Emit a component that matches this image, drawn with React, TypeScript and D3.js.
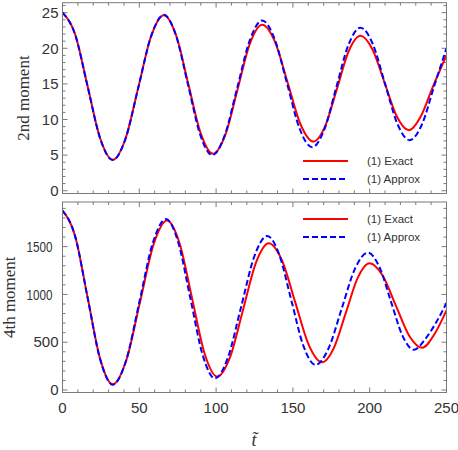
import React from "react";
import * as d3 from "d3";

// [t, value]
const exact2nd: [number, number][] = [
  [0, 25], [8.2, 21.97], [16.35, 14.67], [24.5, 7.37], [32.7, 4.34], [41, 7.3], [49.35, 14.5],
  [57.7, 21.7], [66, 24.65], [74, 21.8], [82, 14.9], [90, 8.05], [98, 5.2], [106, 7.85],
  [114, 14.25], [122, 20.65], [130, 23.3], [138.35, 20.9], [146.7, 15.1], [155, 9.3],
  [163.4, 6.9], [171, 9.08], [178.7, 14.33], [186.3, 19.58], [194, 21.75], [201.9, 19.8],
  [209.75, 15.13], [217.6, 10.45], [225.5, 8.5], [233.4, 10.5], [241.3, 14.7], [250, 19.0],
];
const approx2nd: [number, number][] = [
  [0, 25], [8.2, 21.95], [16.35, 14.65], [24.5, 7.35], [32.7, 4.3], [41, 7.29], [49.35, 14.5],
  [57.7, 21.7], [66, 24.7], [73.9, 21.8], [81.75, 14.85], [89.6, 7.9], [97.5, 5.0], [105.6, 7.77],
  [113.75, 14.45], [121.9, 21.1], [130, 23.9], [138.1, 21.3], [146.25, 15.0], [154.4, 8.7],
  [162.5, 6.1], [170.4, 8.56], [178.25, 14.5], [186.1, 20.44], [194, 22.9], [202, 20.6],
  [210, 15.0], [218, 9.4], [226, 7.1], [234, 9.3], [242, 14.7], [250, 20.0],
];
const exact4th: [number, number][] = [
  [0, 1878], [8.2, 1612], [16.35, 969], [24.5, 326], [32.7, 60], [41.55, 311], [50.4, 916],
  [59.25, 1521], [68.1, 1773], [76.25, 1533], [84.4, 956], [92.55, 379], [100.7, 140],
  [109.1, 344], [117.5, 837], [125.9, 1330], [134.3, 1535], [143, 1352], [151.65, 912],
  [160.3, 472], [169, 290], [176.7, 441], [184.45, 807], [192.2, 1173], [199.9, 1325],
  [208.5, 1195], [217.05, 883], [225.6, 571], [234.2, 442], [242, 580], [250, 834],
];
const approx4th: [number, number][] = [
  [0, 1878], [8.2, 1610], [16.35, 966], [24.5, 322], [32.7, 55], [41.4, 309], [50.05, 921],
  [58.7, 1534], [67.4, 1788], [75.35, 1544], [83.3, 955], [91.25, 366], [99.2, 122],
  [107.7, 340], [116.25, 867], [124.8, 1394], [133.3, 1612], [141.15, 1414], [149, 937],
  [156.85, 461], [164.7, 263], [173.2, 435], [181.75, 850], [190.3, 1265], [198.8, 1437],
  [206.3, 1288], [213.8, 928], [221.3, 569], [228.8, 420], [236, 530], [243, 700], [250, 911],
];

const xTicks = [0, 50, 100, 150, 200, 250];
const yTicks2nd = [0, 5, 10, 15, 20, 25];
const yTicks4th = [0, 500, 1000, 1500];
const legendLabels = ["(1) Exact", "(1) Approx"];

const W = 458;
const H = 450;
const left = 62.5;
const right = 446.5;
const frameColor = "#7a7a7a";
const labelColor = "#333";

const x = d3.scaleLinear().domain([0, 250]).range([left, right]);

type PanelProps = {
  id: string;
  top: number;
  bottom: number;
  y: d3.ScaleLinear<number, number>;
  yTicks: number[];
  yMinor: number;
  ylabel: string;
  ylabelX: number;
  exact: [number, number][];
  approx: [number, number][];
  legendY: number;
  showX: boolean;
};

const Panel = ({ id, top, bottom, y, yTicks, yMinor, ylabel, ylabelX, exact, approx, legendY, showX }: PanelProps) => {
  const line = d3
    .line<[number, number]>()
    .x((d) => x(d[0]))
    .y((d) => y(d[1]))
    .curve(d3.curveMonotoneX);

  const xMinor = d3.range(0, 251, 10);
  const [y0, y1] = y.domain();
  const yMin = d3.range(Math.ceil(y0 / yMinor) * yMinor, y1, yMinor);
  const isMajorY = (v: number) => yTicks.some((t) => Math.abs(t - v) < 1e-6);
  const isMajorX = (v: number) => v % 50 === 0;

  return (
    <g>
      <defs>
        <clipPath id={id}>
          <rect x={left} y={top} width={right - left} height={bottom - top} />
        </clipPath>
      </defs>
      {/* ticks */}
      <g stroke={frameColor} strokeWidth={1}>
        {xMinor.map((v) => {
          const len = isMajorX(v) ? 5 : 3;
          return (
            <g key={"x" + v}>
              <line x1={x(v)} x2={x(v)} y1={bottom} y2={bottom - len} />
              <line x1={x(v)} x2={x(v)} y1={top} y2={top + len} />
            </g>
          );
        })}
        {yMin.map((v) => {
          const len = isMajorY(v) ? 5 : 3;
          return (
            <g key={"y" + v}>
              <line x1={left} x2={left + len} y1={y(v)} y2={y(v)} />
              <line x1={right} x2={right - len} y1={y(v)} y2={y(v)} />
            </g>
          );
        })}
      </g>
      <g clipPath={`url(#${id})`} fill="none">
        <path d={line(exact) || ""} stroke="#ff0000" strokeWidth={2} />
        <path d={line(approx) || ""} stroke="#0000ff" strokeWidth={2} strokeDasharray="6,3" />
      </g>
      <rect x={left} y={top} width={right - left} height={bottom - top} fill="none" stroke={frameColor} strokeWidth={1} />
      {/* y tick labels */}
      <g fontFamily="Liberation Sans, Arial, sans-serif" fontSize={15} fill={labelColor} textAnchor="end">
        {yTicks.map((v) => {
          const wide = String(v).length > 3;
          return wide ? (
            <text key={v} x={left - 10} y={y(v)} dy="0.35em" textLength={26} lengthAdjust="spacingAndGlyphs">{v}</text>
          ) : (
            <text key={v} x={left - 4} y={y(v)} dy="0.35em">{v}</text>
          );
        })}
      </g>
      {showX && (
        <g fontFamily="Liberation Sans, Arial, sans-serif" fontSize={15} fill={labelColor} textAnchor="middle">
          {xTicks.map((v) => (
            <text key={v} x={x(v)} y={bottom + 20}>{v}</text>
          ))}
        </g>
      )}
      <text
        transform={`translate(${ylabelX},${(top + bottom) / 2}) rotate(-90)`}
        textAnchor="middle"
        dy="0.35em"
        fontFamily="Liberation Serif, Times New Roman, serif"
        fontSize={17}
        fill={labelColor}
      >
        {ylabel}
      </text>
      {/* legend */}
      <g fontFamily="Liberation Sans, Arial, sans-serif" fontSize={11.5} fill={labelColor}>
        <line x1={303} x2={348} y1={legendY} y2={legendY} stroke="#ff0000" strokeWidth={2} />
        <text x={367} y={legendY} dy="0.35em">{legendLabels[0]}</text>
        <line x1={303} x2={348} y1={legendY + 18} y2={legendY + 18} stroke="#0000ff" strokeWidth={2} strokeDasharray="6,3" />
        <text x={367} y={legendY + 18} dy="0.35em">{legendLabels[1]}</text>
      </g>
    </g>
  );
};

export default function App() {
  const yTop = d3.scaleLinear().domain([-0.39, 26.4]).range([193.5, 2.7]);
  const yBot = d3.scaleLinear().domain([-26, 1967]).range([392.5, 202]);
  return (
    <svg width={W} height={H} style={{ position: "absolute", left: 0, top: 0, background: "#fff" }}>
      <Panel
        id="c1" top={2.7} bottom={193.5} y={yTop} yTicks={yTicks2nd} yMinor={1} ylabelX={23}
        ylabel="2nd moment" exact={exact2nd} approx={approx2nd} legendY={161} showX={false}
      />
      <Panel
        id="c2" top={202} bottom={392.5} y={yBot} yTicks={yTicks4th} yMinor={100} ylabelX={9.5}
        ylabel="4th moment" exact={exact4th} approx={approx4th} legendY={219} showX={true}
      />
      <text
        x={254} y={446} textAnchor="middle"
        fontFamily="Liberation Serif, Times New Roman, serif" fontStyle="italic" fontSize={18} fill={labelColor}
      >
        {"t\u0303"}
      </text>
    </svg>
  );
}
